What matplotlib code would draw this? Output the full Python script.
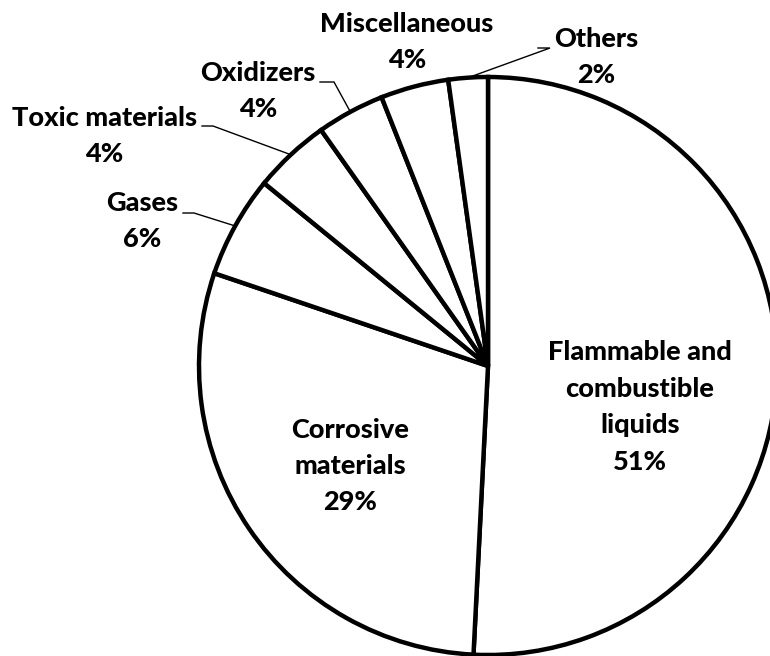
import matplotlib
matplotlib.use("Agg")
import matplotlib.pyplot as plt
import numpy as np

# --- Data ---
categories = ["Flammable and\ncombustible\nliquids", "Corrosive\nmaterials", "Gases",
              "Toxic materials", "Oxidizers", "Miscellaneous", "Others"]
shares = [50.8, 29.4, 5.7, 4.3, 3.8, 3.8, 2.2]  # percent
# ------------

W, H = 770, 656
plt.rcParams["font.family"] = ["Lato", "DejaVu Sans"]


def px(x, y):
    # picture pixel coords (y down) -> data coords (y up)
    return x, H - y


fig = plt.figure(figsize=(W / 100, H / 100), dpi=100)
ax = fig.add_axes([0, 0, 1, 1])

center = px(488, 366)
radius = 289
wedges, _ = ax.pie(shares, center=center, radius=radius, startangle=90,
                   counterclock=False,
                   wedgeprops=dict(facecolor="white", edgecolor="black",
                                   linewidth=3.2, joinstyle="miter"))
ax.set_xlim(0, W)
ax.set_ylim(0, H)
ax.set_aspect("equal")
ax.axis("off")

text_kw = dict(fontsize=19.5, fontweight="black", ha="center", va="center",
               linespacing=1.62, color="black")

# inside labels: (label index, centre x, centre y)
inside = [(0, 640, 407), (1, 350, 466)]
for i, x, y in inside:
    ax.text(*px(x, y), f"{categories[i]}\n{shares[i]:.0f}%", **text_kw)

# outside labels: (index, text centre x, y, leader start x, end x, leader y)
outside = [
    (2, 142, 221, 183, 194, 213),
    (3, 104, 136, 202, 213, 126),
    (4, 258, 91, 320, 334, 82),
    (5, 407, 42, None, None, None),
    (6, 596, 57, 538, 550, 48),
]
for i, x, y, lx0, lx1, ly in outside:
    ax.text(*px(x, y), f"{categories[i]}\n{shares[i]:.0f}%", **text_kw)
    if lx0 is None:
        continue
    w = wedges[i]
    mid = np.deg2rad((w.theta1 + w.theta2) / 2)
    ex = center[0] + radius * np.cos(mid)
    ey = center[1] + radius * np.sin(mid)
    ax.plot([lx0, lx1, ex], [H - ly, H - ly, ey], color="black", linewidth=1.0,
            solid_joinstyle="miter")

fig.savefig("out.png", dpi=100)
